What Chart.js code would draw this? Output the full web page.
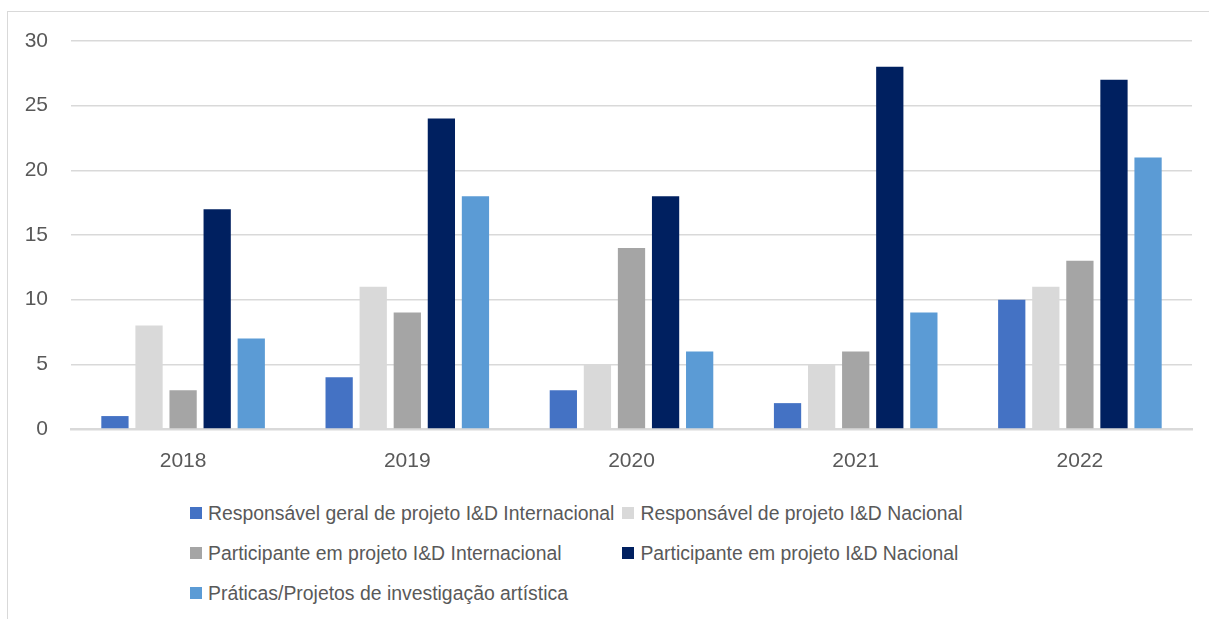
<!DOCTYPE html>
<html>
<head>
<meta charset="utf-8">
<script src="https://cdn.jsdelivr.net/npm/chart.js@4.4.0/dist/chart.umd.min.js"></script>
<style>
  body { margin: 0; background: #fff; font-family: "Liberation Sans", Arial, sans-serif; }
  #frame { position: absolute; left: 7px; top: 11px; width: 1220px; height: 640px; border: 1px solid #d9d9d9; box-sizing: border-box; }
  #wrap { position: absolute; left: 0; top: 0; width: 1209px; height: 480px; }
  #legend { position: absolute; left: 190px; top: 493px; display: grid; grid-template-columns: auto auto; column-gap: 8px; row-gap: 0; }
  .item { display: flex; align-items: center; height: 40px; color: #595959; font-size: 19.4px; white-space: nowrap; }
  .box { width: 12px; height: 12px; margin-right: 6px; }
</style>
</head>
<body>
<div id="frame"></div>
<div id="wrap"><canvas id="chart"></canvas></div>
<div id="legend"></div>
<script>
const years = ['2018', '2019', '2020', '2021', '2022'];
const seriesNames = [
  'Responsável geral de projeto I&D Internacional',
  'Responsável de projeto I&D Nacional',
  'Participante em projeto I&D Internacional',
  'Participante em projeto I&D Nacional',
  'Práticas/Projetos de investigação artística'
];
const respGeralIntl = [1, 4, 3, 2, 10];
const respNacional = [8, 11, 5, 5, 11];
const partIntl = [3, 9, 14, 6, 13];
const partNacional = [17, 24, 18, 28, 27];
const praticas = [7, 18, 6, 9, 21];
const colors = ['#4472c4', '#d9d9d9', '#a5a5a5', '#002060', '#5b9bd5'];
const yTicks = [0, 5, 10, 15, 20, 25, 30];

const allValues = [respGeralIntl, respNacional, partIntl, partNacional, praticas];

const datasets = allValues.map((vals, i) => ({
  label: seriesNames[i],
  data: vals,
  backgroundColor: colors[i],
  borderWidth: 0,
  barPercentage: 0.8,
  categoryPercentage: 0.76
}));

new Chart(document.getElementById('chart'), {
  type: 'bar',
  data: { labels: years, datasets: datasets },
  options: {
    responsive: true,
    maintainAspectRatio: false,
    animation: false,
    layout: { padding: { top: 41, right: 17, left: 0, bottom: 0 } },
    plugins: { legend: { display: false }, tooltip: { enabled: false } },
    scales: {
      x: {
        grid: { display: false, drawTicks: false },
        border: { color: '#d9d9d9', width: 2.5 },
        ticks: { color: '#595959', font: { size: 21, family: 'Liberation Sans' }, padding: 20 },
        afterFit: s => { s.height = 51; }
      },
      y: {
        min: 0, max: 30,
        afterBuildTicks: s => { s.ticks = yTicks.map(v => ({ value: v })); },
        grid: { color: '#d9d9d9', lineWidth: 1.5, drawTicks: false },
        border: { display: false },
        ticks: { color: '#595959', font: { size: 21, family: 'Liberation Sans' }, padding: 23 },
        afterFit: s => { s.width = 71; }
      }
    }
  }
});

const legend = document.getElementById('legend');
seriesNames.forEach((name, i) => {
  const el = document.createElement('div');
  el.className = 'item';
  el.innerHTML = '<span class="box" style="background:' + colors[i] + '"></span><span>' + name.replace('&', '&amp;') + '</span>';
  legend.appendChild(el);
});
</script>
</body>
</html>
